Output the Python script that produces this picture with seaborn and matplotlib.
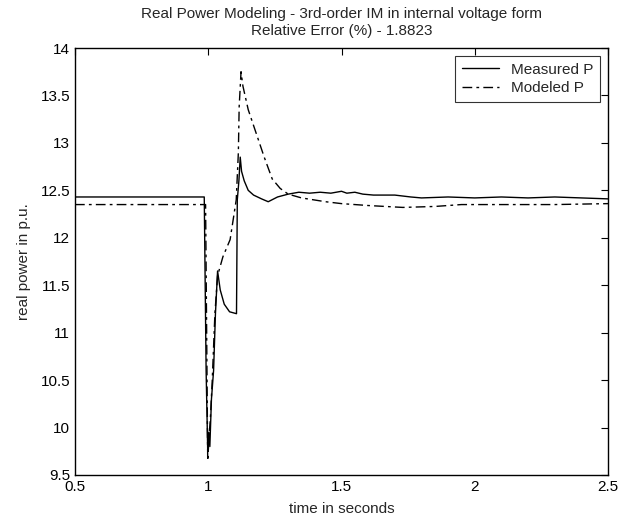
import numpy as np
import pandas as pd
import matplotlib
matplotlib.use("Agg")
import matplotlib.pyplot as plt
import seaborn as sns

# Measured P
t_meas = [0.5, 0.985, 0.987, 0.992, 0.998, 1.002, 1.006, 1.012, 1.02, 1.027, 1.035,
          1.045, 1.06, 1.08, 1.106, 1.109, 1.115, 1.12, 1.125, 1.135, 1.15, 1.17,
          1.2, 1.225, 1.26, 1.3, 1.34, 1.38, 1.42, 1.46, 1.5, 1.52, 1.55, 1.58,
          1.62, 1.7, 1.76, 1.8, 1.9, 2.0, 2.1, 2.2, 2.3, 2.4, 2.5]
p_meas = [12.43, 12.43, 11.9, 10.6, 9.75, 9.95, 9.8, 10.3, 10.6, 11.2, 11.65,
          11.45, 11.3, 11.22, 11.2, 12.4, 12.6, 12.85, 12.7, 12.6, 12.5, 12.45,
          12.41, 12.38, 12.43, 12.46, 12.48, 12.47, 12.48, 12.47, 12.49, 12.47, 12.48, 12.46,
          12.45, 12.45, 12.43, 12.42, 12.43, 12.42, 12.43, 12.42, 12.43, 12.42, 12.41]

# Modeled P
t_mod = [0.5, 0.99, 0.994, 0.998, 1.003, 1.008, 1.015, 1.025, 1.035, 1.055, 1.082,
         1.105, 1.113, 1.116, 1.123, 1.13, 1.15, 1.18, 1.21, 1.24, 1.27, 1.3,
         1.35, 1.44, 1.5, 1.6, 1.73, 1.85, 1.95, 2.1, 2.3, 2.5]
p_mod = [12.35, 12.35, 11.0, 9.65, 9.9, 10.1, 10.5, 11.2, 11.6, 11.8, 11.98,
         12.4, 12.9, 13.38, 13.75, 13.6, 13.35, 13.1, 12.85, 12.62, 12.52, 12.46,
         12.42, 12.38, 12.36, 12.34, 12.32, 12.33, 12.35, 12.35, 12.35, 12.36]

x_ticks = [0.5, 1, 1.5, 2, 2.5]
x_labels = ["0.5", "1", "1.5", "2", "2.5"]
y_ticks = [9.5, 10, 10.5, 11, 11.5, 12, 12.5, 13, 13.5, 14]
y_labels = ["9.5", "10", "10.5", "11", "11.5", "12", "12.5", "13", "13.5", "14"]

sns.set_style("white")
plt.rcParams["font.family"] = ["Liberation Sans", "DejaVu Sans"]

fig = plt.figure(figsize=(6.36, 5.24), dpi=100)
ax = fig.add_axes([75/636, 1-475/524, (608-75)/636, (475-48)/524])

df_m = pd.DataFrame({"t": t_meas, "P": p_meas})
df_d = pd.DataFrame({"t": t_mod, "P": p_mod})
sns.lineplot(data=df_m, x="t", y="P", ax=ax, color="black", lw=1.0,
             label="Measured P", sort=False, estimator=None)
sns.lineplot(data=df_d, x="t", y="P", ax=ax, color="black", lw=1.0,
             linestyle=(0, (7, 3, 2, 3)), label="Modeled P", sort=False, estimator=None)

ax.set_xlim(0.5, 2.5)
ax.set_ylim(9.5, 14)
ax.set_xticks(x_ticks)
ax.set_xticklabels(x_labels)
ax.set_yticks(y_ticks)
ax.set_yticklabels(y_labels)
ax.tick_params(direction="in", length=5, width=0.8, top=True, right=True,
               labelsize=11, colors="black")
for s in ax.spines.values():
    s.set_color("black")
    s.set_linewidth(1.0)
ax.set_xlabel("time in seconds", fontsize=11, labelpad=6)
ax.set_ylabel("real power in p.u.", fontsize=11, labelpad=7)
ax.set_title("Real Power Modeling - 3rd-order IM in internal voltage form\nRelative Error (%) - 1.8823",
             fontsize=11, linespacing=1.35, pad=9)

leg = ax.legend(loc="upper right", fontsize=11, frameon=True, fancybox=False,
                edgecolor="black", borderaxespad=0.5, handlelength=2.4,
                labelspacing=0.3, borderpad=0.45)
leg.get_frame().set_linewidth(0.8)

fig.savefig("out.png", dpi=100)
